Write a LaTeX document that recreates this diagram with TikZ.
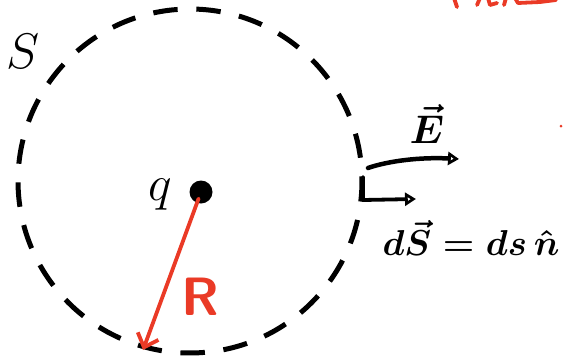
\RequirePackage{fix-cm}
\documentclass[tikz,border=0pt]{standalone}
\usepackage{amsmath,amssymb}
\usetikzlibrary{arrows.meta}
\definecolor{penred}{RGB}{234,58,38}
\begin{document}
\begin{tikzpicture}[x=1pt,y=-1pt,
  surface/.style={line width=5pt,dash pattern=on 24.5pt off 18.7pt},
  pen/.style={line width=3.8pt,line cap=round,line join=round},
  redpen/.style={pen,penred},
  printed/.style={inner sep=0pt,font=\fontsize{50}{50}\selectfont},
  hand/.style={inner sep=0pt,font=\fontsize{36}{36}\selectfont\boldmath}]
\path[use as bounding box] (0,0) rectangle (563,357);
\coordinate (centre) at (190,181);
\draw[surface] (centre) ++(-1.3:172) arc[start angle=-1.3,end angle=358.7,radius=172];
\node[circle,fill,inner sep=0pt,minimum size=23pt] (charge) at (201,192) {};
\node[printed,anchor=base] (qlabel) at (160,200) {$q$};
\node[printed,anchor=base] (Slabel) at (23,68) {$S$};
\coordinate (rim) at (143,350);
\draw[redpen,shorten <=7pt,-{Straight Barb[length=12pt,width=22pt]}] (charge.center) -- (rim);
\node[inner sep=0pt,text=penred,font=\fontsize{54}{54}\selectfont\sffamily\bfseries] (Rlabel) at (200,297) {R};
\coordinate (dsfoot) at (363,177);
\coordinate (dscorner) at (363,200);
\coordinate (dstip) at (416,199);
\draw[pen,-{Triangle[open,length=11pt,width=13pt,line width=3pt]}] (dsfoot) -- (dscorner) -- (dstip);
\coordinate (efoot) at (368,168);
\coordinate (etip) at (459,159);
\draw[pen,line width=4.5pt,-{Triangle[open,length=11pt,width=13pt,line width=3pt]}] (efoot) .. controls (388,161) and (420,157) .. (etip);
\node[hand,font=\fontsize{40}{40}\selectfont\boldmath] (Elabel) at (427,124) {$\vec{E}$};
\node[hand] (dslabel) at (471,238) {$d\vec{S}=ds\,\hat{n}$};
\draw[redpen] (454,-2) -- (457,7);
\draw[redpen] (480,-2) -- (477,5);
\draw[redpen] (488,-2) -- (490,5) -- (497,3);
\draw[redpen] (506,-2) -- (504,5);
\draw[redpen] (515,-2) -- (518,3) -- (540,2) -- (556,0);
\fill[penred] (561,126) circle (1.5);
\end{tikzpicture}
\end{document}
